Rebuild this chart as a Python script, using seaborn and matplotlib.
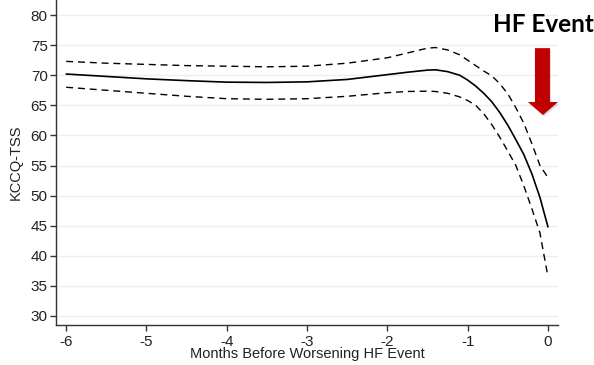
import numpy as np
import pandas as pd
import matplotlib
matplotlib.use("Agg")
import matplotlib.pyplot as plt
import seaborn as sns
from matplotlib.patches import Polygon

months = [-6, -5.5, -5, -4.5, -4, -3.5, -3, -2.5, -2, -1.75, -1.5, -1.4, -1.25, -1.1,
          -1.0, -0.9, -0.8, -0.7, -0.6, -0.5, -0.4, -0.3, -0.2, -0.1, 0]
mean_kccq = [70.2, 69.8, 69.4, 69.1, 68.85, 68.8, 68.9, 69.3, 70.1, 70.5, 70.85, 70.9, 70.6, 70.0,
             69.2, 68.2, 67.0, 65.6, 63.8, 61.7, 59.3, 56.8, 53.6, 49.7, 44.8]
upper_ci = [72.3, 72.0, 71.8, 71.6, 71.5, 71.4, 71.5, 72.0, 72.9, 73.7, 74.5, 74.6, 74.2, 73.4,
            72.5, 71.6, 70.7, 69.9, 68.6, 66.9, 64.6, 62.0, 58.6, 55.0, 53.0]
lower_ci = [68.0, 67.5, 67.0, 66.5, 66.1, 66.0, 66.1, 66.5, 67.1, 67.3, 67.35, 67.3, 67.0, 66.4,
            65.8, 65.0, 63.6, 61.8, 59.7, 57.4, 55.0, 51.6, 47.8, 43.8, 36.5]
x_ticks = [-6, -5, -4, -3, -2, -1, 0]
y_ticks = [30, 35, 40, 45, 50, 55, 60, 65, 70, 75, 80]

sns.set_style("white")
plt.rcParams['font.family'] = ['Liberation Sans', 'DejaVu Sans']

df = pd.concat([
    pd.DataFrame({"x": months, "y": mean_kccq, "s": "mean"}),
    pd.DataFrame({"x": months, "y": upper_ci, "s": "upper"}),
    pd.DataFrame({"x": months, "y": lower_ci, "s": "lower"}),
])

fig = plt.figure(figsize=(5.94, 3.65), dpi=100)
ax = fig.add_axes([56 / 594, 40 / 365, (558 - 56) / 594, 325 / 365])

for s, ls, lw in [("upper", (0, (5, 3.5)), 1.0), ("lower", (0, (5, 3.5)), 1.0), ("mean", "-", 1.2)]:
    d = df[df.s == s]
    sns.lineplot(data=d, x="x", y="y", ax=ax, color="black", linestyle=ls, linewidth=lw,
                 legend=False, sort=False)

ax.set_xlim(-6.127, 0.125)
ax.set_ylim(28.5, 82.5)
ax.set_xticks(x_ticks)
ax.set_xticklabels([str(t) for t in x_ticks])
ax.set_yticks(y_ticks)
ax.set_yticklabels([str(t) for t in y_ticks])
ax.yaxis.grid(True, color="#e8f0f1", linewidth=1.0)
ax.xaxis.grid(False)
ax.set_axisbelow(True)
for sp in ["top", "right"]:
    ax.spines[sp].set_visible(False)
for sp in ["left", "bottom"]:
    ax.spines[sp].set_color("#333333")
    ax.spines[sp].set_linewidth(1.0)
ax.tick_params(axis="both", which="major", direction="out", length=4, width=1,
               color="#333333", labelsize=11, labelcolor="#222222", left=True, bottom=True)
ax.tick_params(axis="y", pad=2)
ax.tick_params(axis="x", pad=3)
ax.set_xlabel("Months Before Worsening HF Event", fontsize=10.5, color="#222222", labelpad=-1)
ax.set_ylabel("KCCQ-TSS", fontsize=10.5, color="#222222", labelpad=6)

# red arrow (in data coordinates)
arrow_shadow = Polygon([(-0.15, 74.2), (0.037, 74.2), (0.037, 65.25), (0.137, 65.25),
                        (-0.05, 63.1), (-0.237, 65.25), (-0.15, 65.25)],
                       closed=True, facecolor="#999999", alpha=0.35, edgecolor="none",
                       clip_on=False, zorder=4)
ax.add_patch(arrow_shadow)
arrow = Polygon([(-0.162, 74.5), (0.025, 74.5), (0.025, 65.55), (0.125, 65.55),
                 (-0.062, 63.4), (-0.249, 65.55), (-0.162, 65.55)],
                closed=True, facecolor="#c00000", edgecolor="none", clip_on=False, zorder=5)
ax.add_patch(arrow)

fig.text(594 / 594, 1 - 24 / 365, "HF Event", ha="right", va="center", fontsize=17.5,
         fontweight="bold", family=["Lato", "DejaVu Sans"], color="black")

fig.savefig("out.png", dpi=100)
